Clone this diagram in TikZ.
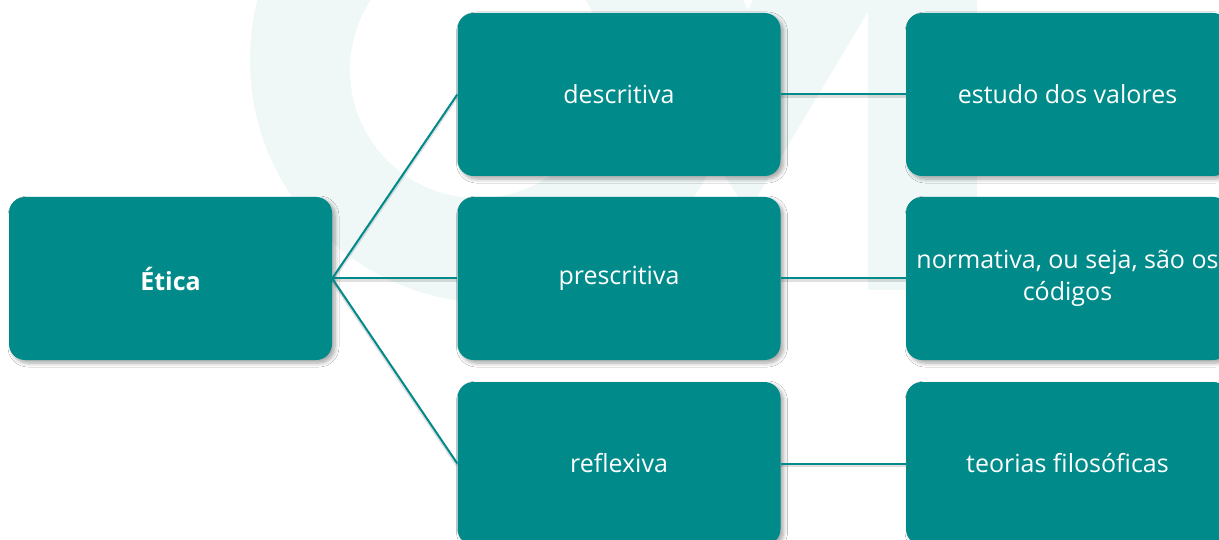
\documentclass[tikz,border=0pt]{standalone}
\usepackage{fontspec}
\setmainfont{Open Sans}
\usetikzlibrary{shadows.blur}
\definecolor{tealbox}{HTML}{008A8A}
\definecolor{wmark}{HTML}{EFF7F7}
\begin{document}
\begin{tikzpicture}[x=1pt,y=-1pt,
  box/.style={rectangle, rounded corners=16pt, fill=tealbox, text=white,
    minimum width=323pt, minimum height=163pt, inner sep=0pt, align=center,
    font=\fontsize{25}{32}\selectfont,
    blur shadow={shadow xshift=3pt, shadow yshift=-3pt, shadow opacity=35,
      shadow blur steps=6, shadow blur radius=4pt}},
  link/.style={draw=tealbox, line width=2pt,
    preaction={draw=black, draw opacity=0.12, line width=3pt,
      transform canvas={yshift=-2pt}}}]
\useasboundingbox (0,0) rectangle (1219,540);
\clip (0,0) rectangle (1219,540);
\fill[white] (0,0) rectangle (1219,540);
% watermark
\fill[wmark] (493,60) circle[radius=243];
\fill[white] (478,70) circle[radius=128];
\fill[wmark] (613,0) -- (743,0) -- (748,10) -- (753,0) -- (875,0) -- (748,212) -- cycle;
\fill[wmark] (868,0) rectangle (977,290);
% nodes
\node[box, font=\fontsize{25}{32}\selectfont\bfseries] (etica) at (170.5,278.5) {Ética};
\node[box] (desc) at (619,94.5) {descritiva};
\node[box] (presc) at (619,278.5) {prescritiva};
\node[box] (refl) at (619,463.5) {reflexiva};
\node[box] (est) at (1067.5,94.5) {estudo dos valores};
\node[box] (norm) at (1067.5,278.5) {normativa, ou seja, são os\\códigos};
\node[box] (teo) at (1067.5,463.5) {teorias filosóficas};
% connectors
\draw[link] (etica.east) -- (desc.west);
\draw[link] (etica.east) -- (presc.west);
\draw[link] (etica.east) -- (refl.west);
\draw[link] (desc.east) -- (est.west);
\draw[link] (presc.east) -- (norm.west);
\draw[link] (refl.east) -- (teo.west);
\end{tikzpicture}
\end{document}
